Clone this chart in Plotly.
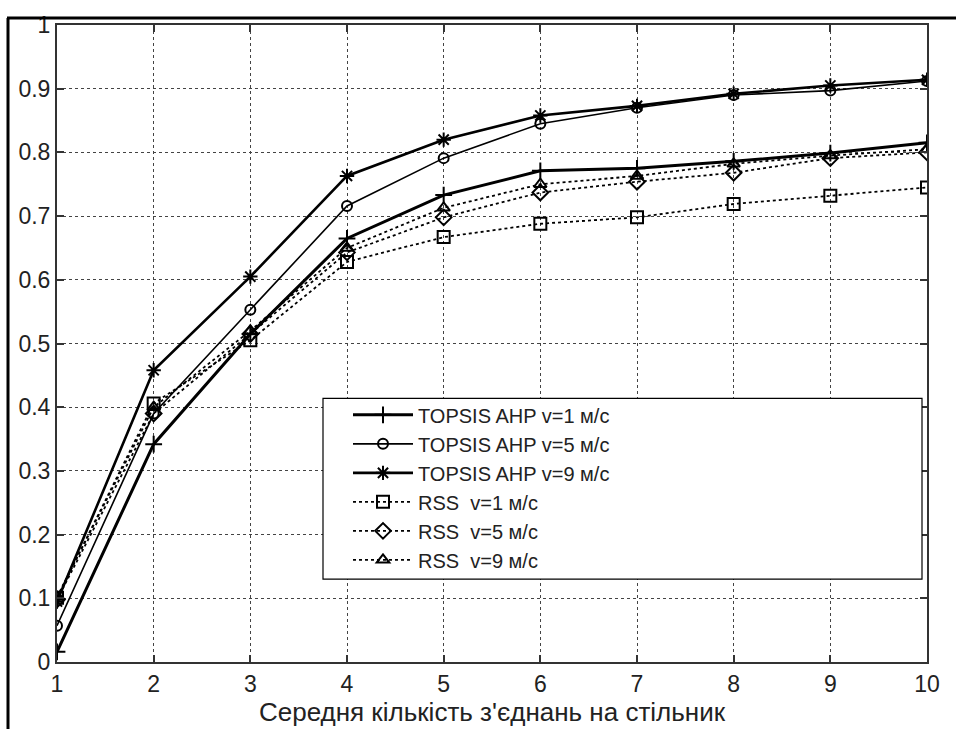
import plotly.graph_objects as go

x_vals = [1, 2, 3, 4, 5, 6, 7, 8, 9, 10]

topsis_v1 = [0.016, 0.342, 0.515, 0.665, 0.733, 0.771, 0.775, 0.786, 0.799, 0.815]
topsis_v5 = [0.057, 0.39, 0.553, 0.716, 0.791, 0.845, 0.870, 0.890, 0.897, 0.912]
topsis_v9 = [0.095, 0.458, 0.605, 0.763, 0.820, 0.858, 0.873, 0.892, 0.905, 0.914]
rss_v1 = [0.101, 0.406, 0.505, 0.628, 0.667, 0.688, 0.698, 0.719, 0.732, 0.745]
rss_v5 = [0.098, 0.39, 0.515, 0.643, 0.698, 0.737, 0.754, 0.768, 0.791, 0.800]
rss_v9 = [0.102, 0.40, 0.52, 0.650, 0.713, 0.750, 0.763, 0.782, 0.795, 0.805]

y_ticks = [0, 0.1, 0.2, 0.3, 0.4, 0.5, 0.6, 0.7, 0.8, 0.9, 1]
y_tick_labels = ["0", "0.1", "0.2", "0.3", "0.4", "0.5", "0.6", "0.7", "0.8", "0.9", "1"]

series = [
    ("TOPSIS AHP v=1 м/с", topsis_v1, "solid", 3, "cross-thin-open", 12),
    ("TOPSIS AHP v=5 м/с", topsis_v5, "solid", 1.6, "circle-open", 10),
    ("TOPSIS AHP v=9 м/с", topsis_v9, "solid", 2.6, "asterisk-open", 12),
    ("RSS  v=1 м/с", rss_v1, "dot", 1.8, "square-open", 12),
    ("RSS  v=5 м/с", rss_v5, "dot", 1.8, "diamond-open", 12),
    ("RSS  v=9 м/с", rss_v9, "dot", 1.8, "triangle-up-open", 11),
]

fig = go.Figure()
for i, (name, ys, dash, lw, sym, ms) in enumerate(series):
    fig.add_trace(go.Scatter(
        x=x_vals, y=ys, name=name, mode="lines+markers",
        legendgroup=f"g{i}",
        line=dict(color="black", width=lw, dash=dash),
        marker=dict(symbol=sym, size=ms, color="black",
                    line=dict(color="black", width=2)),
    ))

W, H = 956, 729
L, R, T, B = 57, 29, 17, 67
pw, ph = W - L - R, H - T - B

def px_x(p):
    return (p - L) / pw

def px_y(p):
    return (H - B - p) / ph

shapes = [
    # legend box
    dict(type="rect", xref="paper", yref="paper",
         x0=px_x(323), x1=px_x(922), y0=px_y(578), y1=px_y(395),
         line=dict(color="black", width=1.2), fillcolor="white", layer="above"),
    # outer image frame (top and left)
    dict(type="line", xref="paper", yref="paper",
         x0=px_x(7), x1=px_x(960), y0=px_y(10), y1=px_y(10),
         line=dict(color="black", width=3)),
    dict(type="line", xref="paper", yref="paper",
         x0=px_x(8), x1=px_x(8), y0=px_y(10), y1=px_y(735),
         line=dict(color="black", width=3)),
]

tick_font = dict(family="Liberation Sans Narrow, Arial Narrow, Liberation Sans, Arial", size=23, color="#222")

fig.update_layout(
    width=W, height=H,
    margin=dict(l=L, r=R, t=T, b=B),
    paper_bgcolor="white", plot_bgcolor="white",
    showlegend=True,
    legend=dict(
        x=px_x(348), y=px_y(392), xanchor="left", yanchor="top",
        bgcolor="rgba(0,0,0,0)", borderwidth=0,
        font=dict(family="Liberation Sans, Arial", size=20, color="#222"),
        tracegroupgap=0, itemwidth=60,
    ),
    shapes=shapes,
    xaxis=dict(
        range=[1, 10], tickvals=x_vals, ticktext=[str(v) for v in x_vals],
        showline=True, linecolor="#333", linewidth=2, mirror="ticks",
        ticks="inside", ticklen=7, tickcolor="#333", tickwidth=1.5,
        showgrid=True, gridcolor="#444", griddash="dot", gridwidth=1.2,
        zeroline=False, tickfont=tick_font,
        title=dict(text="Середня кількість з'єднань на стільник",
                   font=dict(family="Liberation Sans, Arial", size=26, color="#222"),
                   standoff=0),
    ),
    yaxis=dict(
        range=[0, 1], tickvals=y_ticks, ticktext=y_tick_labels,
        showline=True, linecolor="#333", linewidth=2, mirror="ticks",
        ticks="inside", ticklen=7, tickcolor="#333", tickwidth=1.5,
        showgrid=True, gridcolor="#444", griddash="dot", gridwidth=1.2,
        zeroline=False, tickfont=tick_font,
    ),
)

fig.write_html("out.html", config={"displayModeBar": False},
               post_script="document.body.style.margin='0';document.body.style.overflow='hidden';")
